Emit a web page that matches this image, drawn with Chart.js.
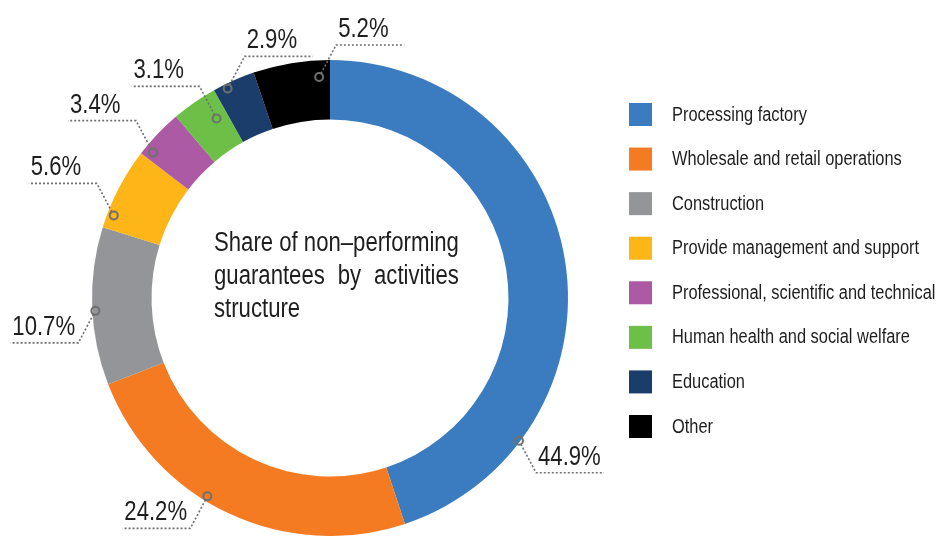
<!DOCTYPE html>
<html>
<head>
<meta charset="utf-8">
<script src="https://cdn.jsdelivr.net/npm/chart.js@4.4.0/dist/chart.umd.min.js"></script>
<style>
    html, body { margin: 0; padding: 0; background: #fff; overflow: hidden; }
    #wrap { width: 937px; height: 536px; }
</style>
</head>
<body>
<div id="wrap"><canvas id="chartNpl" width="937" height="536"></canvas></div>
<script>
const labels = [
    'Processing factory',
    'Wholesale and retail operations',
    'Construction',
    'Provide management and support',
    'Professional, scientific and technical',
    'Human health and social welfare',
    'Education',
    'Other',
];
const shares = [44.9, 24.2, 10.7, 5.6, 3.4, 3.1, 2.9, 5.2];
const colors = ['#3b7bbf', '#f47b22', '#939598', '#fdb518', '#ab5aa3', '#6cbf47', '#1b3d6c', '#000000'];
const titleLines = ['Share of non\u2013performing', 'guarantees by activities', 'structure'];

// where each value label is hooked on its slice (share of the arc, share of the ring width)
// and which way its dotted leader runs
const labelSpots = [
    { along: 0.786, across: 0.98, up: false, right: true },
    { along: 0.575, across: 0.92, up: false, right: false },
    { along: 0.47, across: 0.95, up: false, right: false },
    { along: 0.18, across: 0.89, up: true, right: false },
    { along: 0.16, across: 0.85, up: true, right: false },
    { along: 0.72, across: 0.57, up: true, right: false },
    { along: 0.30, across: 0.92, up: true, right: true },
    { along: 0.85, across: 0.72, up: true, right: true },
];

// no narrow face installed, so squeeze a regular one
const FONT = "'Liberation Sans', Arial, sans-serif";
const SX = 0.82;
const INK = '#1e1e1e';

function narrowText(ctx, txt, x, y) {
    ctx.save();
    ctx.translate(x, y);
    ctx.scale(SX, 1);
    ctx.fillText(txt, 0, 0);
    ctx.restore();
}
function narrowWidth(ctx, txt) {
    return ctx.measureText(txt).width * SX;
}

const extrasPlugin = {
    id: 'extras',
    afterDraw(chart) {
        const ctx = chart.ctx;
        const arcs = chart.getDatasetMeta(0).data;
        ctx.save();

        // value labels with dotted leaders
        arcs.forEach((arc, i) => {
            const p = arc.getProps(['x', 'y', 'startAngle', 'endAngle', 'innerRadius', 'outerRadius'], true);
            const s = labelSpots[i];
            const a = p.startAngle + (p.endAngle - p.startAngle) * s.along;
            const r = p.innerRadius + (p.outerRadius - p.innerRadius) * s.across;
            const cx = p.x + Math.cos(a) * r;
            const cy = p.y + Math.sin(a) * r;
            const dx = s.right ? 1 : -1;
            const dy = s.up ? -1 : 1;
            const ex = cx + dx * 17;
            const ey = cy + dy * 32;
            const fx = ex + dx * 68;
            const len = Math.hypot(17, 32);

            ctx.strokeStyle = '#707070';
            ctx.lineWidth = 1.6;
            ctx.setLineDash([2, 2]);
            ctx.beginPath();
            ctx.moveTo(cx + dx * 17 / len * 4, cy + dy * 32 / len * 4);
            ctx.lineTo(ex, ey);
            ctx.lineTo(fx, ey);
            ctx.stroke();

            ctx.setLineDash([]);
            ctx.lineWidth = 2;
            ctx.beginPath();
            ctx.arc(cx, cy, 4, 0, Math.PI * 2);
            ctx.stroke();

            ctx.fillStyle = INK;
            ctx.font = '27px ' + FONT;
            ctx.textAlign = 'left';
            ctx.textBaseline = 'alphabetic';
            narrowText(ctx, shares[i].toFixed(1) + '%', Math.min(ex, fx) + 2, ey - 8);
        });

        // title in the hole, middle line justified to the first one
        const c = arcs[0];
        ctx.font = '27px ' + FONT;
        ctx.fillStyle = INK;
        const tx = c.x - 116;
        const fullW = narrowWidth(ctx, titleLines[0]);
        titleLines.forEach((line, k) => {
            const by = c.y - 47 + k * 33;
            if (k === 1) {
                const words = line.split(' ');
                const wordsW = words.reduce((t, w) => t + narrowWidth(ctx, w), 0);
                const gap = (fullW - wordsW) / (words.length - 1);
                let x = tx;
                words.forEach(w => {
                    narrowText(ctx, w, x, by);
                    x += narrowWidth(ctx, w) + gap;
                });
            } else {
                narrowText(ctx, line, tx, by);
            }
        });

        // legend
        ctx.font = '20px ' + FONT;
        ctx.textBaseline = 'middle';
        labels.forEach((lab, i) => {
            const top = 103 + i * 44.57;
            ctx.fillStyle = colors[i];
            ctx.fillRect(629, top, 23, 23);
            ctx.fillStyle = INK;
            narrowText(ctx, lab, 672, top + 12);
        });

        ctx.restore();
    }
};

const data = {
    labels: labels,
    datasets: [{
        data: shares,
        backgroundColor: colors,
        borderWidth: 0,
    }]
};

const config = {
    type: 'doughnut',
    data: data,
    options: {
        responsive: false,
        animation: false,
        cutout: '75%',
        layout: {
            padding: { left: 91, right: 368, top: 60, bottom: 0 }
        },
        plugins: {
            legend: { display: false },
            tooltip: { enabled: false }
        }
    },
    plugins: [extrasPlugin]
};

const chartNpl = new Chart(document.getElementById('chartNpl'), config);
</script>
</body>
</html>
